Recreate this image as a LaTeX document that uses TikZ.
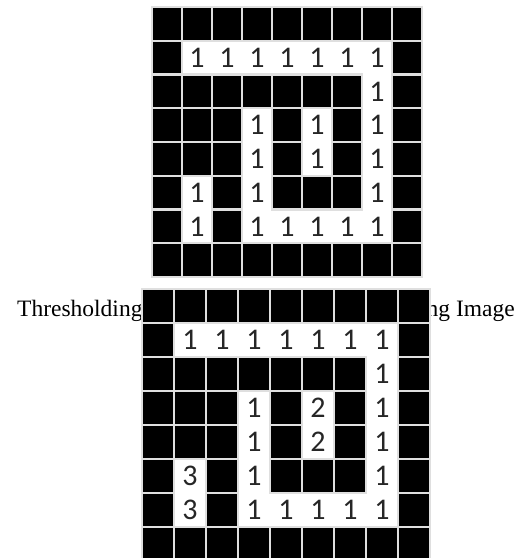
\documentclass[tikz,border=0pt]{standalone}
\usepackage{fontspec}
\setmainfont{Liberation Serif}
\newfontfamily\digitfont{Carlito}
\usetikzlibrary{positioning}

\begin{document}
\begin{tikzpicture}[
  x=1pt, y=-1pt,
  cell/.style={inner sep=0pt, outer sep=0pt, text=black!85,
    font=\digitfont\fontsize{30}{30}\selectfont},
  topcell/.style={cell, minimum width=30pt, minimum height=33.75pt},
  botcell/.style={cell, minimum width=32pt, minimum height=34pt},
  off/.style={fill=black, draw=gray!25, line width=2.2pt},
  caption/.style={font=\fontsize{23.5}{23.5}\selectfont, inner sep=0pt}
]
  \useasboundingbox (0,0) rectangle (521,558);
  % Captions (lie under the lower grid)
  \node[caption, anchor=base west] (thr) at (17,316) {Thresholding Image};
  \node[caption, anchor=base east] (lab) at (515,316) {Labeling Image};
  % Thresholding grid
  \foreach \r [count=\j from 0] in {
    {0,0,0,0,0,0,0,0,0},
    {0,1,1,1,1,1,1,1,0},
    {0,0,0,0,0,0,0,1,0},
    {0,0,0,1,0,1,0,1,0},
    {0,0,0,1,0,1,0,1,0},
    {0,1,0,1,0,0,0,1,0},
    {0,1,0,1,1,1,1,1,0},
    {0,0,0,0,0,0,0,0,0}} {
    \foreach \v [count=\i from 0] in \r {
      \ifnum\v=0
        \node[topcell, off] (t-\i-\j) at (167+30*\i, 23.875+33.75*\j) {};
      \else
        \node[topcell] (t-\i-\j) at (167+30*\i, 23.875+33.75*\j) {\v};
      \fi
    }
  }
  % Labeling grid
  \foreach \r [count=\j from 0] in {
    {0,0,0,0,0,0,0,0,0},
    {0,1,1,1,1,1,1,1,0},
    {0,0,0,0,0,0,0,1,0},
    {0,0,0,1,0,2,0,1,0},
    {0,0,0,1,0,2,0,1,0},
    {0,3,0,1,0,0,0,1,0},
    {0,3,0,1,1,1,1,1,0},
    {0,0,0,0,0,0,0,0,0}} {
    \foreach \v [count=\i from 0] in \r {
      \ifnum\v=0
        \node[botcell, off] (b-\i-\j) at (158+32*\i, 306+34*\j) {};
      \else
        \node[botcell] (b-\i-\j) at (158+32*\i, 306+34*\j) {\v};
      \fi
    }
  }
\end{tikzpicture}
\end{document}
